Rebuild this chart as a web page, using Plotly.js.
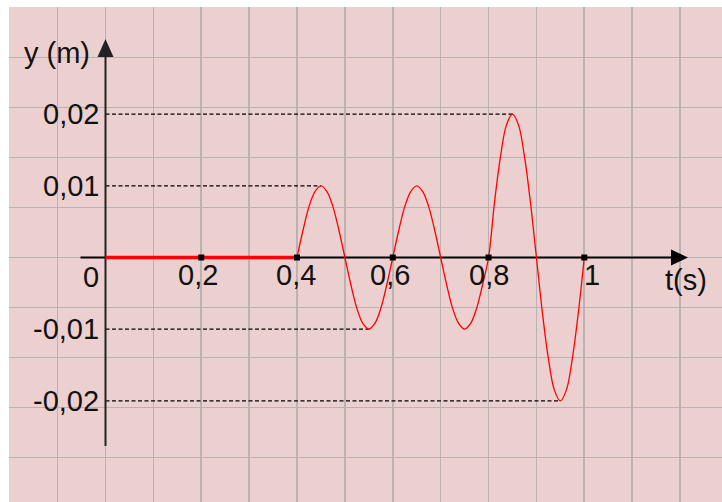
<!DOCTYPE html>
<html>
<head>
<meta charset="utf-8">
<script src="https://cdn.plot.ly/plotly-3.0.1.min.js"></script>
<style>html,body{margin:0;padding:0;background:#fff;}#chart{width:722px;height:502px;}</style>
</head>
<body>
<div id="chart"></div>
<script>
// ---- data ----
const tTicks = [0.2, 0.4, 0.6, 0.8, 1];
const tTickLabels = ['0,2', '0,4', '0,6', '0,8', '1'];
const yTicks = [0.02, 0.01, -0.01, -0.02];
const yTickLabels = ['0,02', '0,01', '-0,01', '-0,02'];
const restT = [0, 0.4];
const restY = [0, 0];
const waveT = [0.4, 0.4125, 0.425, 0.4375, 0.45, 0.4625, 0.475, 0.4875,
               0.5, 0.5125, 0.525, 0.5375, 0.55, 0.5625, 0.575, 0.5875,
               0.6, 0.6125, 0.625, 0.6375, 0.65, 0.6625, 0.675, 0.6875,
               0.7, 0.7125, 0.725, 0.7375, 0.75, 0.7625, 0.775, 0.7875,
               0.8, 0.8125, 0.825, 0.8375, 0.85, 0.8625, 0.875, 0.8875,
               0.9, 0.9125, 0.925, 0.9375, 0.95, 0.9625, 0.975, 0.9875, 1.0];
const waveY = [0, 0.0038, 0.0071, 0.0092, 0.01, 0.0092, 0.0071, 0.0038,
               0, -0.0038, -0.0071, -0.0092, -0.01, -0.0092, -0.0071, -0.0038,
               0, 0.0038, 0.0071, 0.0092, 0.01, 0.0092, 0.0071, 0.0038,
               0, -0.0038, -0.0071, -0.0092, -0.01, -0.0092, -0.0071, -0.0038,
               0, 0.0077, 0.0141, 0.0185, 0.02, 0.0185, 0.0141, 0.0077,
               0, -0.0077, -0.0141, -0.0185, -0.02, -0.0185, -0.0141, -0.0077, 0];
const peakT = [0.45, 0.55, 0.85, 0.95];
const peakY = [0.01, -0.01, 0.02, -0.02];
const xTitle = 't(s)';
const yTitle = 'y (m)';
const originLabel = '0';

// ---- layout geometry (pixel mapping) ----
const W = 722, H = 502, ML = 9, MT = 7;
const x0px = 105.5, pxPerT = 478.8;   // t=0 pixel, pixels per second
const y0px = 257.5, pxPerY = 7170;    // y=0 pixel, pixels per metre
const tAt = px => (px - x0px) / pxPerT;
const yAt = py => (y0px - py) / pxPerY;

const FONT = {family: 'Liberation Sans, Arial, sans-serif', size: 29, color: '#111'};
const RED = '#ff0000';

const traces = [
  {x: restT, y: restY, mode: 'lines', line: {color: RED, width: 3.5}, hoverinfo: 'skip'},
  {x: waveT, y: waveY, mode: 'lines', line: {color: RED, width: 1.3, shape: 'spline', smoothing: 1}, hoverinfo: 'skip'},
  {x: tTicks, y: tTicks.map(() => 0), mode: 'markers', marker: {symbol: 'square', size: 6, color: '#000'}, hoverinfo: 'skip'}
];

const shapes = [];
// dashed guide lines from the y axis to each extreme
peakT.forEach((t, i) => {
  shapes.push({type: 'line', xref: 'x', yref: 'y', x0: 0, x1: t, y0: peakY[i], y1: peakY[i],
    line: {color: '#000', width: 1.2, dash: '4px,2.5px'}, layer: 'between'});
});
// axes
shapes.push({type: 'line', xref: 'x', yref: 'y', x0: tAt(80.5), x1: tAt(674), y0: 0, y1: 0,
  line: {color: '#000', width: 2}, layer: 'between'});
shapes.push({type: 'line', xref: 'x', yref: 'y', x0: 0, x1: 0, y0: yAt(446), y1: yAt(55),
  line: {color: '#222', width: 2}, layer: 'between'});
// arrow heads
shapes.push({type: 'path', xref: 'x', yref: 'y', xsizemode: 'pixel', ysizemode: 'pixel',
  xanchor: tAt(688), yanchor: 0, path: 'M -17,-8 L 0,0 L -17,8 Z',
  fillcolor: '#000', line: {width: 0}, layer: 'between'});
shapes.push({type: 'path', xref: 'x', yref: 'y', xsizemode: 'pixel', ysizemode: 'pixel',
  xanchor: 0, yanchor: yAt(39), path: 'M -8,-18 L 0,0 L 8,-18 Z',
  fillcolor: '#222', line: {width: 0}, layer: 'between'});

const annotations = [];
const tLabelShift = [-3, -1, -3, 0, 8];
tTicks.forEach((t, i) => {
  annotations.push({x: t, y: 0, xref: 'x', yref: 'y', text: tTickLabels[i], showarrow: false,
    xanchor: 'center', yanchor: 'middle', xshift: tLabelShift[i], yshift: -17, font: FONT});
});
yTicks.forEach((v, i) => {
  annotations.push({x: 0, y: v, xref: 'x', yref: 'y', text: yTickLabels[i], showarrow: false,
    xanchor: 'right', yanchor: 'middle', xshift: -5, yshift: 0, font: FONT});
});
annotations.push({x: 0, y: 0, xref: 'x', yref: 'y', text: originLabel, showarrow: false,
  xanchor: 'center', yanchor: 'middle', xshift: -15, yshift: -19, font: FONT});
annotations.push({x: tAt(686), y: 0, xref: 'x', yref: 'y', text: xTitle, showarrow: false,
  xanchor: 'center', yanchor: 'middle', yshift: -22, font: FONT});
annotations.push({x: tAt(57), y: yAt(53), xref: 'x', yref: 'y', text: yTitle, showarrow: false,
  xanchor: 'center', yanchor: 'middle', font: FONT});

const layout = {
  width: W, height: H, autosize: false,
  margin: {l: ML, r: 0, t: MT, b: 0, pad: 0},
  paper_bgcolor: '#ffffff', plot_bgcolor: '#ecd0cf',
  showlegend: false,
  xaxis: {range: [tAt(ML), tAt(W)], tick0: 0, dtick: 0.1, showgrid: true, gridcolor: '#b9b2b2', gridwidth: 1.6,
    zeroline: false, showticklabels: false, ticks: '', showline: false, fixedrange: true},
  yaxis: {range: [yAt(H), yAt(MT)], tick0: 0, dtick: 50 / pxPerY, showgrid: true, gridcolor: '#b9b2b2', gridwidth: 1.6,
    zeroline: false, showticklabels: false, ticks: '', showline: false, fixedrange: true},
  shapes: shapes,
  annotations: annotations
};

Plotly.newPlot('chart', traces, layout, {displayModeBar: false, staticPlot: true});
</script>
</body>
</html>
